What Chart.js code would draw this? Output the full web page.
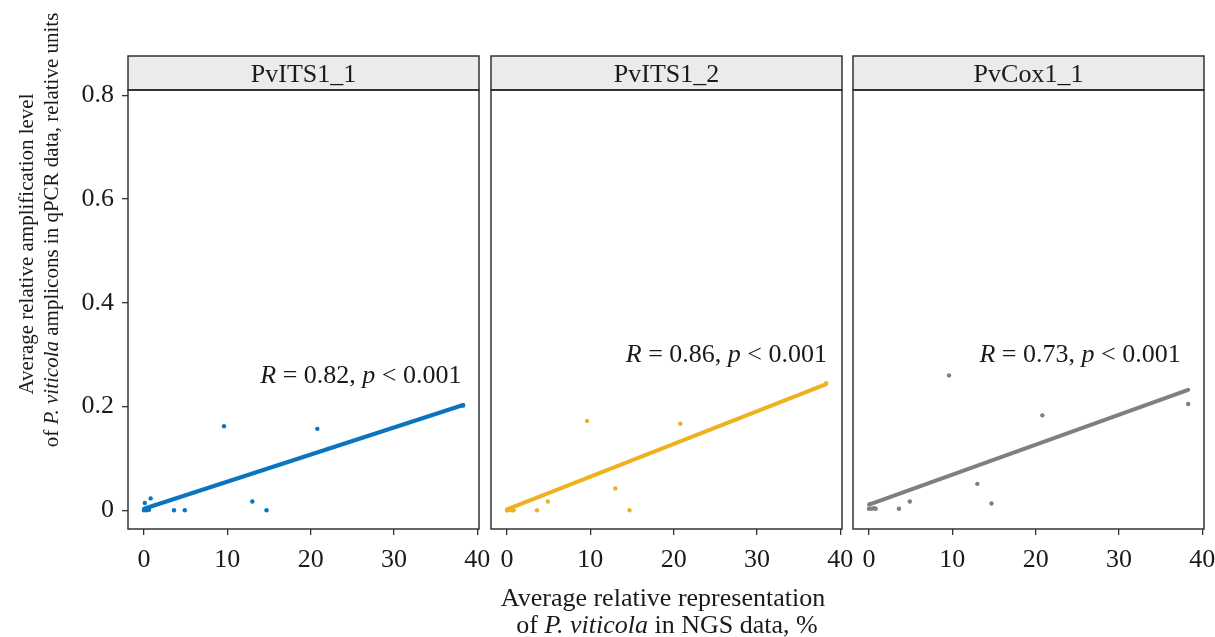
<!DOCTYPE html>
<html lang="en">
<head>
<meta charset="UTF-8">
<title>qPCR vs NGS, P. viticola</title>
<script src="https://cdn.jsdelivr.net/npm/chart.js"></script>
<style>
  html, body { margin: 0; padding: 0; background: #fff; }
  .wrap { position: relative; width: 1215px; height: 637px; }
  .wrap canvas { position: absolute; left: 0; top: 0; }
</style>
</head>
<body>
<div class="wrap">
  <canvas id="p0" width="1215" height="637"></canvas>
  <canvas id="p1" width="1215" height="637"></canvas>
  <canvas id="p2" width="1215" height="637"></canvas>
</div>
<script>
const panelNames = ['PvITS1_1', 'PvITS1_2', 'PvCox1_1'];
const xTicks = [0, 10, 20, 30, 40];
const yTicks = [0, 0.2, 0.4, 0.6, 0.8];

// NGS share of P. viticola (%) per sample, same samples in every panel
const ngsShare = [0, 0.1, 0.3, 0.6, 0.8, 3.6, 4.9, 9.6, 13.0, 14.7, 20.8, 38.3];
// qPCR amplification level per sample
const qpcrITS1_1 = [0, 0.014, 0, 0.001, 0.023, 0, 0, 0.162, 0.017, 0, 0.157, 0.202];
const qpcrITS1_2 = [0, 0, 0.001, 0, 0, 0, 0.017, 0.172, 0.042, 0, 0.167, 0.245];
const qpcrCox1_1 = [0.003, 0.012, 0.003, 0.004, 0.003, 0.003, 0.017, 0.26, 0.051, 0.013, 0.183, 0.205];

// linear fit, values at the ends of the data range
const fitX = [0, 38.3];
const fitITS1_1 = [0.003, 0.203];
const fitITS1_2 = [0.002, 0.243];
const fitCox1_1 = [0.011, 0.232];

const rValues = ['0.82', '0.86', '0.73'];
const pText = '< 0.001';

const seriesY = [qpcrITS1_1, qpcrITS1_2, qpcrCox1_1];
const fits = [fitITS1_1, fitITS1_2, fitCox1_1];
const colors = ['#0a74bf', '#eeb220', '#7f7f7f'];

// layout: panel frames in page pixels
const panelLeft = [128, 491, 853];
const panelWidth = 351;
const plotTop = 90, plotBottom = 529, stripTop = 56;
// label anchors (data units): right edge and baseline
const labelAt = [[38.1, 0.245], [38.4, 0.286], [37.4, 0.286]];

const SERIF = '"Liberation Serif", "Times New Roman", serif';
const INK = '#1a1a1a';

function richText(ctx, segs, x, y, size, align) {
  const font = it => (it ? 'italic ' : '') + size + 'px ' + SERIF;
  let w = 0;
  segs.forEach(s => { ctx.font = font(s[1]); w += ctx.measureText(s[0]).width; });
  let cx = align === 'right' ? x - w : align === 'center' ? x - w / 2 : x;
  ctx.textAlign = 'left';
  ctx.textBaseline = 'alphabetic';
  ctx.fillStyle = INK;
  segs.forEach(s => {
    ctx.font = font(s[1]);
    ctx.fillText(s[0], cx, y);
    cx += ctx.measureText(s[0]).width;
  });
}

function makePanel(i) {
  const pts = ngsShare.map((x, k) => ({ x: x, y: seriesY[i][k] }));
  const line = fitX.map((x, k) => ({ x: x, y: fits[i][k] }));
  const first = i === 0;

  const facet = {
    id: 'facet' + i,
    afterDraw(chart) {
      const ctx = chart.ctx;
      const a = chart.chartArea;
      ctx.save();
      // strip
      ctx.fillStyle = '#ebebeb';
      ctx.fillRect(a.left, stripTop, a.right - a.left, a.top - stripTop);
      ctx.strokeStyle = '#333';
      ctx.lineWidth = 1.5;
      ctx.strokeRect(a.left, stripTop, a.right - a.left, a.top - stripTop);
      ctx.font = '26px ' + SERIF;
      ctx.fillStyle = INK;
      ctx.textAlign = 'center';
      ctx.textBaseline = 'alphabetic';
      ctx.fillText(panelNames[i], (a.left + a.right) / 2, 82);
      // panel frame
      ctx.strokeRect(a.left, a.top, a.right - a.left, a.bottom - a.top);
      ctx.lineWidth = 2.2;
      ctx.beginPath();
      ctx.moveTo(a.left, a.top);
      ctx.lineTo(a.right, a.top);
      ctx.stroke();

      // correlation label
      const xs = chart.scales.x, ys = chart.scales.y;
      richText(ctx, [['R', true], [' = ' + rValues[i] + ', ', false], ['p', true], [' ' + pText, false]],
        xs.getPixelForValue(labelAt[i][0]), ys.getPixelForValue(labelAt[i][1]), 26, 'right');

      if (first) {
        ctx.translate(33, 244);
        ctx.rotate(-Math.PI / 2);
        richText(ctx, [['Average relative amplification level', false]], 0, 0, 21, 'center');
        ctx.rotate(Math.PI / 2);
        ctx.translate(25, -14);
        ctx.rotate(-Math.PI / 2);
        richText(ctx, [['of ', false], ['P. viticola', true], [' amplicons in qPCR data, relative units', false]], 0, 0, 21, 'center');
      }
      if (i === 1) {
        richText(ctx, [['Average relative representation', false]], 663, 606, 26, 'center');
        richText(ctx, [['of ', false], ['P. viticola', true], [' in NGS data, %', false]], 667, 633, 26, 'center');
      }
      ctx.restore();
    }
  };

  return new Chart(document.getElementById('p' + i), {
    type: 'scatter',
    data: {
      datasets: [
        {
          type: 'line',
          data: line,
          borderColor: colors[i],
          borderWidth: 4,
          borderCapStyle: 'round',
          pointRadius: 0,
          fill: false,
          order: 0
        },
        {
          data: pts,
          backgroundColor: colors[i],
          borderWidth: 0,
          pointRadius: 2.2,
          order: 1
        }
      ]
    },
    options: {
      responsive: false,
      animation: false,
      events: [],
      layout: {
        padding: {
          top: plotTop,
          bottom: 0,
          left: panelLeft[i] - panelLeft[0],
          right: 1215 - panelLeft[i] - panelWidth
        }
      },
      plugins: { legend: { display: false }, tooltip: { enabled: false } },
      scales: {
        x: {
          type: 'linear',
          min: -1.92,
          max: 40.2,
          afterBuildTicks: s => { s.ticks = xTicks.map(v => ({ value: v })); },
          afterFit: s => { s.height = 637 - plotBottom; s.paddingLeft = 0; s.paddingRight = 0; },
          border: { display: false },
          grid: { drawOnChartArea: false, drawTicks: true, tickLength: 6, color: '#333', lineWidth: 1.3 },
          ticks: { color: INK, font: { family: SERIF, size: 26 }, padding: 10, maxRotation: 0, callback: v => String(v) }
        },
        y: {
          display: first,
          min: -0.036,
          max: 0.81,
          afterBuildTicks: s => { s.ticks = yTicks.map(v => ({ value: v })); },
          afterFit: s => { s.width = panelLeft[0]; },
          border: { display: false },
          grid: { drawOnChartArea: false, drawTicks: true, tickLength: 6, color: '#333', lineWidth: 1.3 },
          ticks: { color: INK, font: { family: SERIF, size: 26 }, padding: 8, callback: v => v === 0 ? '0' : v.toFixed(1) }
        }
      }
    },
    plugins: [facet]
  });
}

panelNames.forEach((n, i) => makePanel(i));
</script>
</body>
</html>
